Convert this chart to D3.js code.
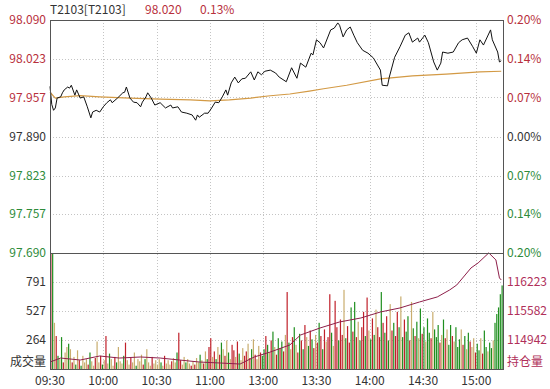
<!DOCTYPE html>
<html>
<head>
<meta charset="utf-8">
<script src="https://cdn.jsdelivr.net/npm/d3@7"></script>
<style>
  body { margin: 0; background: #fff; }
  svg text { font-family: "Noto Sans CJK SC", "Noto Sans", sans-serif; font-size: 12px; }
</style>
</head>
<body>
<svg id="chart" width="550" height="389"></svg>
<script>
// ---- data ----
let priceTicks = [98.090, 98.023, 97.957, 97.890, 97.823, 97.757, 97.690]
let pctTicks = ["0.20%", "0.14%", "0.07%", "0.00%", "0.07%", "0.14%", "0.20%"]
let volTicks = [264, 527, 791]
let oiTicks = [114942, 115582, 116223]
let timeIdx = [0, 30, 60, 90, 120, 150, 180, 210, 240]
let timeLabels = ["09:30", "10:00", "10:30", "11:00", "13:00", "13:30", "14:00", "14:30", "15:00"]

// price line (minute index, price)
let priceMin = [0,1,2,3,4,6,7,8,10,11,12,14,15,17,19,21,23,24,26,28,30,32,34,35,38,41,42,43,45,47,49,51,52,54,55,57,59,62,65,68,69,72,74,77,80,82,83,84,87,89,91,93,95,97,99,100,102,104,106,108,110,113,115,117,119,121,124,127,129,133,136,139,141,144,147,148,150,152,154,158,160,162,163,165,167,169,171,173,176,179,182,186,187,190,191,194,197,200,202,204,207,208,211,213,216,218,220,221,224,227,230,232,235,238,240,242,244,248,249,252,253,254]
let priceVal = [97.976,97.945,97.935,97.939,97.956,97.958,97.965,97.970,97.975,97.973,97.978,97.961,97.970,97.956,97.958,97.941,97.922,97.932,97.935,97.932,97.941,97.948,97.953,97.948,97.956,97.965,97.966,97.975,97.956,97.949,97.948,97.941,97.949,97.958,97.965,97.956,97.944,97.948,97.939,97.944,97.939,97.941,97.932,97.930,97.927,97.918,97.927,97.923,97.930,97.930,97.939,97.949,97.948,97.958,97.970,97.961,97.982,97.992,97.982,97.989,97.990,98.001,97.987,98.001,97.996,98.002,98.004,97.999,97.992,97.984,98.008,97.990,98.016,98.009,98.033,98.030,98.056,98.051,98.042,98.073,98.076,98.085,98.081,98.061,98.073,98.078,98.064,98.051,98.038,98.033,98.025,98.004,97.978,97.977,97.992,98.026,98.044,98.064,98.068,98.052,98.059,98.052,98.064,98.051,98.018,98.004,98.016,98.035,98.033,98.035,98.051,98.056,98.059,98.044,98.033,98.056,98.047,98.073,98.056,98.035,98.018,98.020]

// average price line
let avgMin = [0,3,8,17,28,45,62,79,90,101,113,124,135,146,154,167,186,204,223,242,254]
let avgVal = [97.966,97.956,97.958,97.960,97.958,97.956,97.954,97.953,97.951,97.953,97.956,97.960,97.963,97.968,97.972,97.978,97.989,97.994,97.997,98.001,98.002]

// open interest line
let oiMin = [0,6,17,28,39,51,62,73,84,96,107,115,124,135,141,152,163,175,186,197,208,218,225,229,237,241,247,251,253,254]
let oiVal = [114456,114544,114500,114589,114544,114567,114544,114500,114456,114434,114412,114567,114677,114832,115052,115207,115340,115428,115560,115649,115781,115892,116047,116157,116532,116643,116864,116709,116312,116267]

// volume per minute
let volume = [
  1150,1100,420,300,120,90,290,60,150,200,
  230,180,60,110,40,170,80,30,120,60,
  90,40,150,70,30,100,250,60,120,40,
  80,300,50,140,90,30,110,60,200,70,
  50,120,240,80,40,100,60,150,30,90,
  70,130,40,90,180,60,30,110,50,80,
  40,90,60,30,120,50,80,40,70,100,
  60,150,330,80,40,110,60,90,50,30,
  70,40,100,60,130,80,50,160,90,200,
  280,110,160,90,200,130,240,180,120,260,
  150,90,220,170,110,250,140,80,190,120,
  160,230,100,180,270,130,90,210,150,120,
  180,300,220,150,260,340,200,130,280,190,
  250,160,310,700,240,180,290,380,220,150,
  320,260,180,400,290,210,350,270,190,310,
  240,420,300,180,360,250,290,680,330,210,
  620,380,260,450,310,720,280,390,240,560,
  340,610,290,430,260,380,520,300,650,350,
  270,460,310,540,380,290,700,420,330,480,
  260,590,350,420,300,520,380,660,290,450,
  340,480,260,610,370,300,430,280,550,320,
  380,250,460,330,280,520,360,290,400,240,
  310,450,280,360,220,400,300,250,380,200,
  270,360,220,300,180,330,250,200,280,150,
  230,170,280,140,350,200,160,240,190,260,
  420,500,560,680,760
]
// bar colour per minute: r = up, g = down, y = flat
let volColor = (
  "rgyrgygryy" + "gyrygyrgyy" + "yrgyyryyrg" + "yrygyyrgyy" + "ygryyryygy" +
  "yyrgyyyryy" + "yygyryyyry" + "ygrryygyyr" + "yryygyrygr" + "ryrgyrgyry" +
  "gyrryrgyyr" + "ryrgyryyrg" + "grgyrgyrgr" + "gryrgyrgyr" + "grgrygrgry" +
  "rgrgryrrgy" + "rrgrrygrrg" + "rgrygrrgry" + "grgyrrgrgr" + "gyrgrrgygr" +
  "ggrygrgygr" + "gyggrygggr" + "ygryggrygg" + "gyrgygryyr" + "ggyrggyggy" +
  "ggggg"
).split("")

// ---- layout ----
let left = 50, right = 503
let priceTop = 20, priceBottom = 253
let volTop = 253, volBottom = 369
let colors = { r: "#c0202a", g: "#1f8f1f", y: "#c9ad6e" }
let redTxt = "#b8303c", greenTxt = "#2e8b3a", darkTxt = "#333"

let svg = d3.select("#chart")

let x = d3.scaleLinear().domain([0, 255]).range([left, right])
let y = d3.scaleLinear().domain([97.690, 98.090]).range([priceBottom, priceTop])
let yv = d3.scaleLinear().domain([0, 1055]).range([volBottom, volTop]).clamp(true)
let yo = d3.scaleLinear().domain([114942, 115582]).range([340, 311])

// gridlines
let grid = svg.append("g").attr("stroke", "#c4c4c4").attr("stroke-dasharray", "1,2")
grid.selectAll(".hp").data(priceTicks.slice(1, -1)).join("line")
    .attr("x1", left).attr("x2", right)
    .attr("y1", d => Math.round(y(d)) + 0.5).attr("y2", d => Math.round(y(d)) + 0.5)
grid.selectAll(".hv").data(volTicks).join("line")
    .attr("x1", left).attr("x2", right)
    .attr("y1", d => Math.round(yv(d)) + 0.5).attr("y2", d => Math.round(yv(d)) + 0.5)
grid.selectAll(".vt").data(timeIdx.slice(1)).join("line")
    .attr("x1", d => Math.round(x(d)) + 0.5).attr("x2", d => Math.round(x(d)) + 0.5)
    .attr("y1", priceTop).attr("y2", volBottom)

// volume bars
svg.append("g").selectAll("rect").data(volume).join("rect")
    .attr("x", (d, i) => x(i + 0.5) - 0.6)
    .attr("width", 1.2)
    .attr("y", d => yv(d))
    .attr("height", d => volBottom - yv(d))
    .attr("fill", (d, i) => colors[volColor[i]])

// open interest line
svg.append("path")
    .datum(oiMin.map((m, i) => [m, oiVal[i]]))
    .attr("fill", "none").attr("stroke", "#8e1f4a").attr("stroke-width", 1)
    .attr("d", d3.line().x(d => x(d[0])).y(d => yo(d[1])))

// average price line
svg.append("path")
    .datum(avgMin.map((m, i) => [m, avgVal[i]]))
    .attr("fill", "none").attr("stroke", "#d39a45").attr("stroke-width", 1.2)
    .attr("d", d3.line().x(d => x(d[0])).y(d => y(d[1])))

// price line
svg.append("path")
    .datum(priceMin.map((m, i) => [m, priceVal[i]]))
    .attr("fill", "none").attr("stroke", "#111").attr("stroke-width", 1)
    .attr("d", d3.line().x(d => x(d[0])).y(d => y(d[1])))

// frame
let frame = svg.append("g").attr("stroke", "#555").attr("fill", "none")
frame.append("rect").attr("x", left + 0.5).attr("y", priceTop + 0.5)
    .attr("width", right - left).attr("height", volBottom - priceTop)
frame.append("line").attr("x1", left).attr("x2", right)
    .attr("y1", priceBottom + 0.5).attr("y2", priceBottom + 0.5)

// left price labels
svg.append("g").selectAll("text").data(priceTicks).join("text")
    .attr("x", 46).attr("y", d => y(d)).attr("dy", "0.35em")
    .attr("text-anchor", "end")
    .attr("fill", (d, i) => i < 3 ? redTxt : i === 3 ? darkTxt : greenTxt)
    .text(d => d.toFixed(3))

// right pct labels
svg.append("g").selectAll("text").data(pctTicks).join("text")
    .attr("x", 507).attr("y", (d, i) => y(priceTicks[i])).attr("dy", "0.35em")
    .attr("fill", (d, i) => i < 3 ? redTxt : i === 3 ? darkTxt : greenTxt)
    .text(d => d)

// volume labels
svg.append("g").selectAll("text").data(volTicks).join("text")
    .attr("x", 46).attr("y", d => yv(d)).attr("dy", "0.35em")
    .attr("text-anchor", "end").attr("fill", darkTxt)
    .text(d => d)
svg.append("text").attr("x", 46).attr("y", 362).attr("dy", "0.35em")
    .attr("text-anchor", "end").attr("fill", darkTxt).text("成交量")

// open interest labels
svg.append("g").selectAll("text").data(oiTicks).join("text")
    .attr("x", 507).attr("y", d => yo(d)).attr("dy", "0.35em")
    .attr("fill", "#b0305a")
    .text(d => d)
svg.append("text").attr("x", 507).attr("y", 362).attr("dy", "0.35em")
    .attr("fill", "#b0305a").text("持仓量")

// time labels
svg.append("g").selectAll("text").data(timeIdx).join("text")
    .attr("x", d => x(d)).attr("y", 381).attr("dy", "0.35em")
    .attr("text-anchor", "middle").attr("fill", darkTxt)
    .text((d, i) => timeLabels[i])

// title
svg.append("text").attr("x", 50).attr("y", 14).attr("fill", darkTxt).text("T2103[T2103]")
svg.append("text").attr("x", 145).attr("y", 14).attr("fill", redTxt).text("98.020")
svg.append("text").attr("x", 200).attr("y", 14).attr("fill", redTxt).text("0.13%")
</script>
</body>
</html>
